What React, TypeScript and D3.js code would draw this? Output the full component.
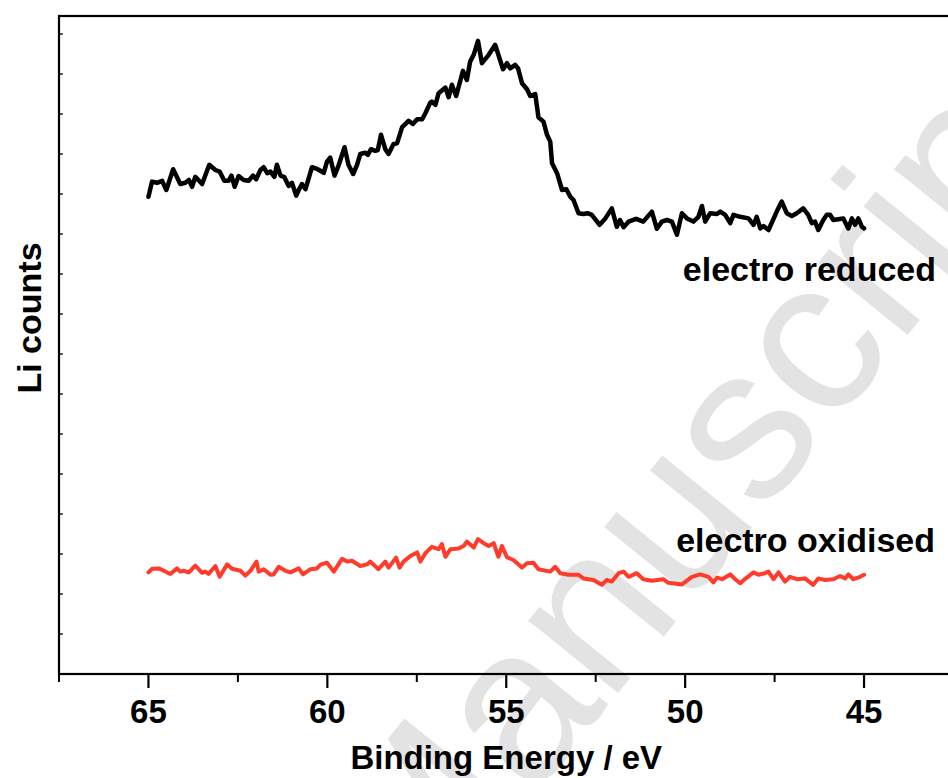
import * as d3 from 'd3'

// Li 1s region, binding energy in eV (axis reversed), counts in arbitrary units
const reducedEnergy = [
  65.0, 64.9, 64.76, 64.62, 64.5, 64.31, 64.11, 63.97, 63.87, 63.78, 63.69, 63.5, 63.3, 63.13, 63.01,
  62.88, 62.76, 62.68, 62.59, 62.48, 62.34, 62.2, 62.08, 61.99, 61.87, 61.78, 61.68, 61.59, 61.48, 61.41,
  61.31, 61.2, 61.08, 60.99, 60.87, 60.8, 60.71, 60.61, 60.43, 60.27, 60.1, 60.01, 59.92, 59.8, 59.68,
  59.52, 59.41, 59.28, 59.17, 59.08, 58.94, 58.87, 58.78, 58.66, 58.59, 58.5, 58.38, 58.29, 58.15, 58.05,
  57.91, 57.73, 57.61, 57.49, 57.35, 57.26, 57.12, 57.08, 56.98, 56.89, 56.7, 56.61, 56.52, 56.4, 56.21,
  56.1, 56.01, 55.91, 55.79, 55.68, 55.49, 55.31, 55.09, 54.98, 54.89, 54.75, 54.67, 54.56, 54.42, 54.33,
  54.19, 54.1, 53.96, 53.86, 53.77, 53.72, 53.58, 53.44, 53.32, 53.21, 53.12, 52.98, 52.84, 52.73, 52.61,
  52.39, 52.23, 52.05, 51.91, 51.82, 51.72, 51.58, 51.37, 51.17, 50.93, 50.79, 50.65, 50.51, 50.37, 50.23,
  50.09, 49.95, 49.77, 49.63, 49.53, 49.44, 49.3, 49.11, 49.02, 48.88, 48.74, 48.65, 48.46, 48.23, 48.09,
  48.0, 47.9, 47.81, 47.67, 47.44, 47.3, 47.16, 47.02, 46.88, 46.7, 46.56, 46.46, 46.37, 46.28, 46.14,
  46.04, 45.95, 45.86, 45.72, 45.58, 45.44, 45.34, 45.25, 45.16, 45.06, 45.0,
]
const reducedCounts = [
  1193, 1231, 1228, 1233, 1210, 1262, 1225, 1228, 1235, 1218, 1243, 1225, 1273, 1260, 1256,
  1233, 1233, 1246, 1218, 1245, 1235, 1233, 1246, 1237, 1260, 1267, 1252, 1256, 1243, 1273,
  1246, 1242, 1220, 1228, 1196, 1210, 1225, 1212, 1267, 1262, 1253, 1281, 1291, 1246, 1273,
  1317, 1273, 1250, 1273, 1300, 1303, 1298, 1312, 1308, 1310, 1348, 1312, 1300, 1325, 1327,
  1367, 1383, 1375, 1387, 1387, 1402, 1429, 1431, 1423, 1452, 1466, 1442, 1473, 1445, 1508,
  1485, 1531, 1548, 1583, 1527, 1548, 1573, 1512, 1527, 1514, 1523, 1514, 1477, 1462, 1445,
  1450, 1392, 1381, 1348, 1331, 1277, 1252, 1210, 1212, 1193, 1185, 1152, 1150, 1152, 1148,
  1123, 1139, 1164, 1118, 1135, 1117, 1131, 1138, 1131, 1156, 1113, 1131, 1135, 1131, 1098,
  1152, 1139, 1131, 1143, 1170, 1131, 1152, 1150, 1156, 1148, 1127, 1148, 1143, 1139, 1123,
  1143, 1114, 1120, 1110, 1156, 1181, 1152, 1145, 1152, 1164, 1148, 1127, 1131, 1110, 1135,
  1148, 1148, 1135, 1137, 1139, 1114, 1139, 1123, 1139, 1118, 1114,
]

const oxidisedEnergy = [
  65.0, 64.9, 64.71, 64.57, 64.39, 64.2, 64.11, 64.01, 63.87, 63.69, 63.5, 63.41, 63.32, 63.13, 63.01,
  62.8, 62.66, 62.43, 62.29, 62.15, 61.98, 61.92, 61.78, 61.59, 61.5, 61.36, 61.17, 61.03, 60.8, 60.68,
  60.47, 60.29, 60.18, 60.01, 59.82, 59.59, 59.45, 59.31, 59.08, 58.89, 58.8, 58.57, 58.38, 58.29, 58.08,
  57.98, 57.87, 57.68, 57.49, 57.4, 57.26, 57.08, 56.89, 56.8, 56.7, 56.56, 56.33, 56.19, 56.1, 55.91,
  55.79, 55.63, 55.49, 55.35, 55.22, 55.12, 54.98, 54.8, 54.56, 54.42, 54.24, 54.1, 53.77, 53.63, 53.49,
  53.26, 52.98, 52.84, 52.56, 52.33, 52.19, 52.05, 51.86, 51.72, 51.58, 51.35, 51.17, 50.93, 50.61, 50.47,
  50.09, 49.81, 49.58, 49.35, 49.21, 49.11, 48.97, 48.74, 48.6, 48.46, 48.32, 48.09, 47.95, 47.77, 47.67,
  47.53, 47.39, 47.21, 47.07, 46.88, 46.65, 46.42, 46.28, 46.09, 45.86, 45.67, 45.53, 45.44, 45.3, 45.11,
  45.0,
]
const oxidisedCounts = [
  254, 263, 264, 258, 250, 264, 256, 258, 254, 271, 253, 256, 250, 270, 243,
  274, 263, 258, 246, 258, 281, 256, 262, 248, 249, 268, 258, 254, 264, 249,
  262, 264, 274, 278, 256, 288, 281, 283, 270, 274, 281, 262, 281, 266, 291,
  266, 281, 295, 304, 281, 302, 318, 312, 325, 293, 312, 314, 320, 331, 316,
  337, 327, 320, 327, 293, 320, 292, 285, 266, 277, 278, 262, 256, 268, 252,
  248, 248, 239, 235, 223, 235, 231, 252, 256, 243, 252, 237, 233, 237, 228,
  224, 243, 249, 243, 229, 241, 237, 249, 237, 227, 238, 254, 248, 252, 256,
  237, 254, 231, 243, 237, 239, 223, 239, 235, 237, 245, 239, 249, 237, 243,
  248,
]

const majorTicks = [65, 60, 55, 50, 45]
const minorTicks = [67.5, 62.5, 57.5, 52.5, 47.5, 42.5]
const yTicks = [100, 200, 300, 400, 500, 600, 700, 800, 900, 1000, 1100, 1200, 1300, 1400, 1500, 1600]

const W = 948
const H = 778
const FONT = '"Liberation Sans", Arial, Helvetica, sans-serif'

export default function App() {
  const x = d3.scaleLinear().domain([67.5, 42.5]).range([59, 953.5])
  const y = d3.scaleLinear().domain([0, 1645]).range([674, 16])
  const [x0, x1] = x.range()
  const [yb, yt] = y.range()

  const line = d3.line<[number, number]>().x(d => x(d[0])).y(d => y(d[1]))
  const reduced = d3.zip(reducedEnergy, reducedCounts) as [number, number][]
  const oxidised = d3.zip(oxidisedEnergy, oxidisedCounts) as [number, number][]

  return (
    <div style={{ position: 'absolute', left: 0, top: 0, width: W, height: H, overflow: 'hidden', background: '#fff' }}>
      <svg width={W} height={H} style={{ display: 'block', fontFamily: FONT }}>
        {/* watermark, mostly off the page */}
        <text transform="translate(418,940) rotate(-51)" fontSize={218} fill="#e3e3e3">Manuscript</text>

        {/* frame */}
        <rect x={x0} y={yt} width={x1 - x0} height={yb - yt} fill="none" stroke="#000" strokeWidth={2.2} />

        {/* y ticks (inward, no labels) */}
        {yTicks.map(t => (
          <line key={t} x1={x0} x2={x0 + 4} y1={y(t)} y2={y(t)} stroke="#000" strokeWidth={1.3} />
        ))}

        {/* x ticks */}
        {majorTicks.map(t => (
          <g key={t}>
            <line x1={x(t)} x2={x(t)} y1={yb} y2={yb + 14} stroke="#000" strokeWidth={2.2} />
            <text x={x(t)} y={723} textAnchor="middle" fontSize={33} fontWeight="bold">{t}</text>
          </g>
        ))}
        {minorTicks.map(t => (
          <line key={t} x1={x(t)} x2={x(t)} y1={yb} y2={yb + 8} stroke="#000" strokeWidth={2} />
        ))}

        {/* spectra */}
        <path d={line(oxidised) ?? ''} fill="none" stroke="#ff3b2b" strokeWidth={4} strokeLinejoin="round" strokeLinecap="round" />
        <path d={line(reduced) ?? ''} fill="none" stroke="#000" strokeWidth={4.5} strokeLinejoin="round" strokeLinecap="round" />

        <text x={936} y={281} textAnchor="end" fontSize={34} fontWeight="bold">electro reduced</text>
        <text x={935} y={552} textAnchor="end" fontSize={34} fontWeight="bold">electro oxidised</text>

        {/* axis titles */}
        <text x={(x0 + x1) / 2} y={769} textAnchor="middle" fontSize={33} fontWeight="bold">Binding Energy / eV</text>
        <text transform="translate(41,318) rotate(-90)" textAnchor="middle" fontSize={34} fontWeight="bold">Li counts</text>
      </svg>
    </div>
  )
}
